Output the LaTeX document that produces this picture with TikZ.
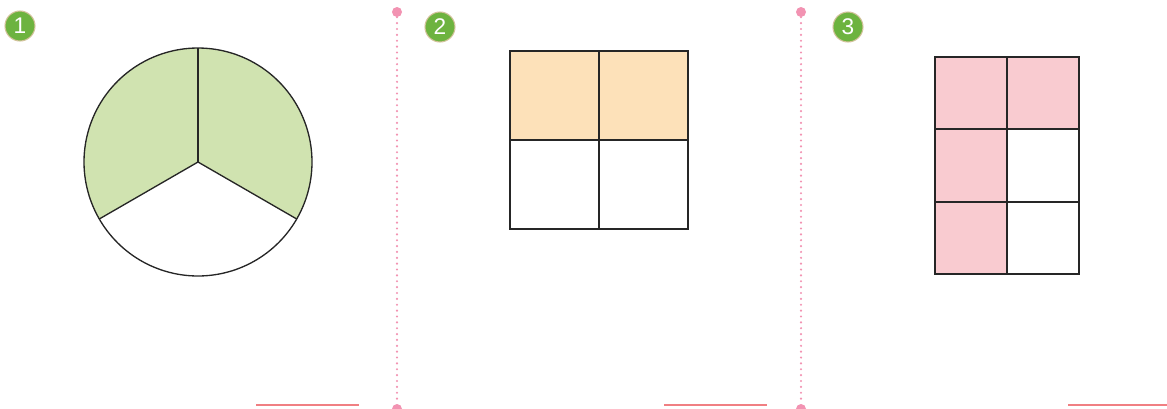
\documentclass[tikz,border=0pt]{standalone}
\usepackage{fontspec}
\setmainfont{Liberation Sans}
\begin{document}
\begin{tikzpicture}[x=0.75pt,y=-0.75pt,
  badge/.style={circle,fill=badgegreen,draw=badgeborder,line width=0.8pt,minimum size=22.5pt,inner sep=0pt,text=white,font=\fontsize{17}{17}\selectfont},
  sep/.style={draw=seppink,line width=1.8pt,line cap=round, dash pattern=on 0pt off 4.4pt},
  sepdot/.style={circle,fill=seppink,inner sep=0pt,minimum size=7.5pt},
  ansline/.style={draw=ansred,line width=1.6pt},
  outl/.style={draw=black!85,line width=1pt}]
\definecolor{badgegreen}{HTML}{6DB33F}
\definecolor{badgeborder}{HTML}{D2C29A}
\definecolor{seppink}{HTML}{F293B2}
\definecolor{ansred}{HTML}{F07F82}
\definecolor{pgreen}{HTML}{D0E3B0}
\definecolor{porange}{HTML}{FDE1B9}
\definecolor{ppink}{HTML}{F9CBD0}
\useasboundingbox (0,0) rectangle (1167,408);
% badges
\node[badge] (b1) at (20,26) {1};
\node[badge] (b2) at (440,27) {2};
\node[badge] (b3) at (848,27) {3};
% separators
\node[sepdot] (s1t) at (397,12) {};
\node[sepdot] (s1b) at (397,409) {};
\draw[sep] (s1t) -- (s1b);
\node[sepdot] (s2t) at (801,12) {};
\node[sepdot] (s2b) at (801,409) {};
\draw[sep] (s2t) -- (s2b);
% answer lines
\coordinate (a1l) at (256,405); \coordinate (a1r) at (359,405);
\coordinate (a2l) at (664,405); \coordinate (a2r) at (767,405);
\coordinate (a3l) at (1068,405); \coordinate (a3r) at (1167,405);
\draw[ansline] (a1l) -- (a1r);
\draw[ansline] (a2l) -- (a2r);
\draw[ansline] (a3l) -- (a3r);
% circle
\coordinate (c) at (198,162);
\coordinate (ct) at (198,48);
\coordinate (cl) at (99.27,219);
\coordinate (cr) at (296.73,219);
\fill[pgreen] (c) -- plot[domain=-30:210,samples=120] ({198+114*cos(\x)},{162-114*sin(\x)}) -- cycle;
\draw[outl] plot[domain=0:360,samples=180] ({198+114*cos(\x)},{162-114*sin(\x)}) -- cycle;
\draw[outl] (c) -- (ct);
\draw[outl] (c) -- (cl);
\draw[outl] (c) -- (cr);
% square
\fill[porange] (510,51) rectangle (688,140);
\draw[outl] (510,51) rectangle (688,229);
\draw[outl] (599,51) -- (599,229);
\draw[outl] (510,140) -- (688,140);
% grid
\fill[ppink] (935,57) rectangle (1079,129);
\fill[ppink] (935,129) rectangle (1007,274);
\draw[outl] (935,57) rectangle (1079,274);
\draw[outl] (1007,57) -- (1007,274);
\draw[outl] (935,129) -- (1079,129);
\draw[outl] (935,202) -- (1079,202);
\end{tikzpicture}
\end{document}
